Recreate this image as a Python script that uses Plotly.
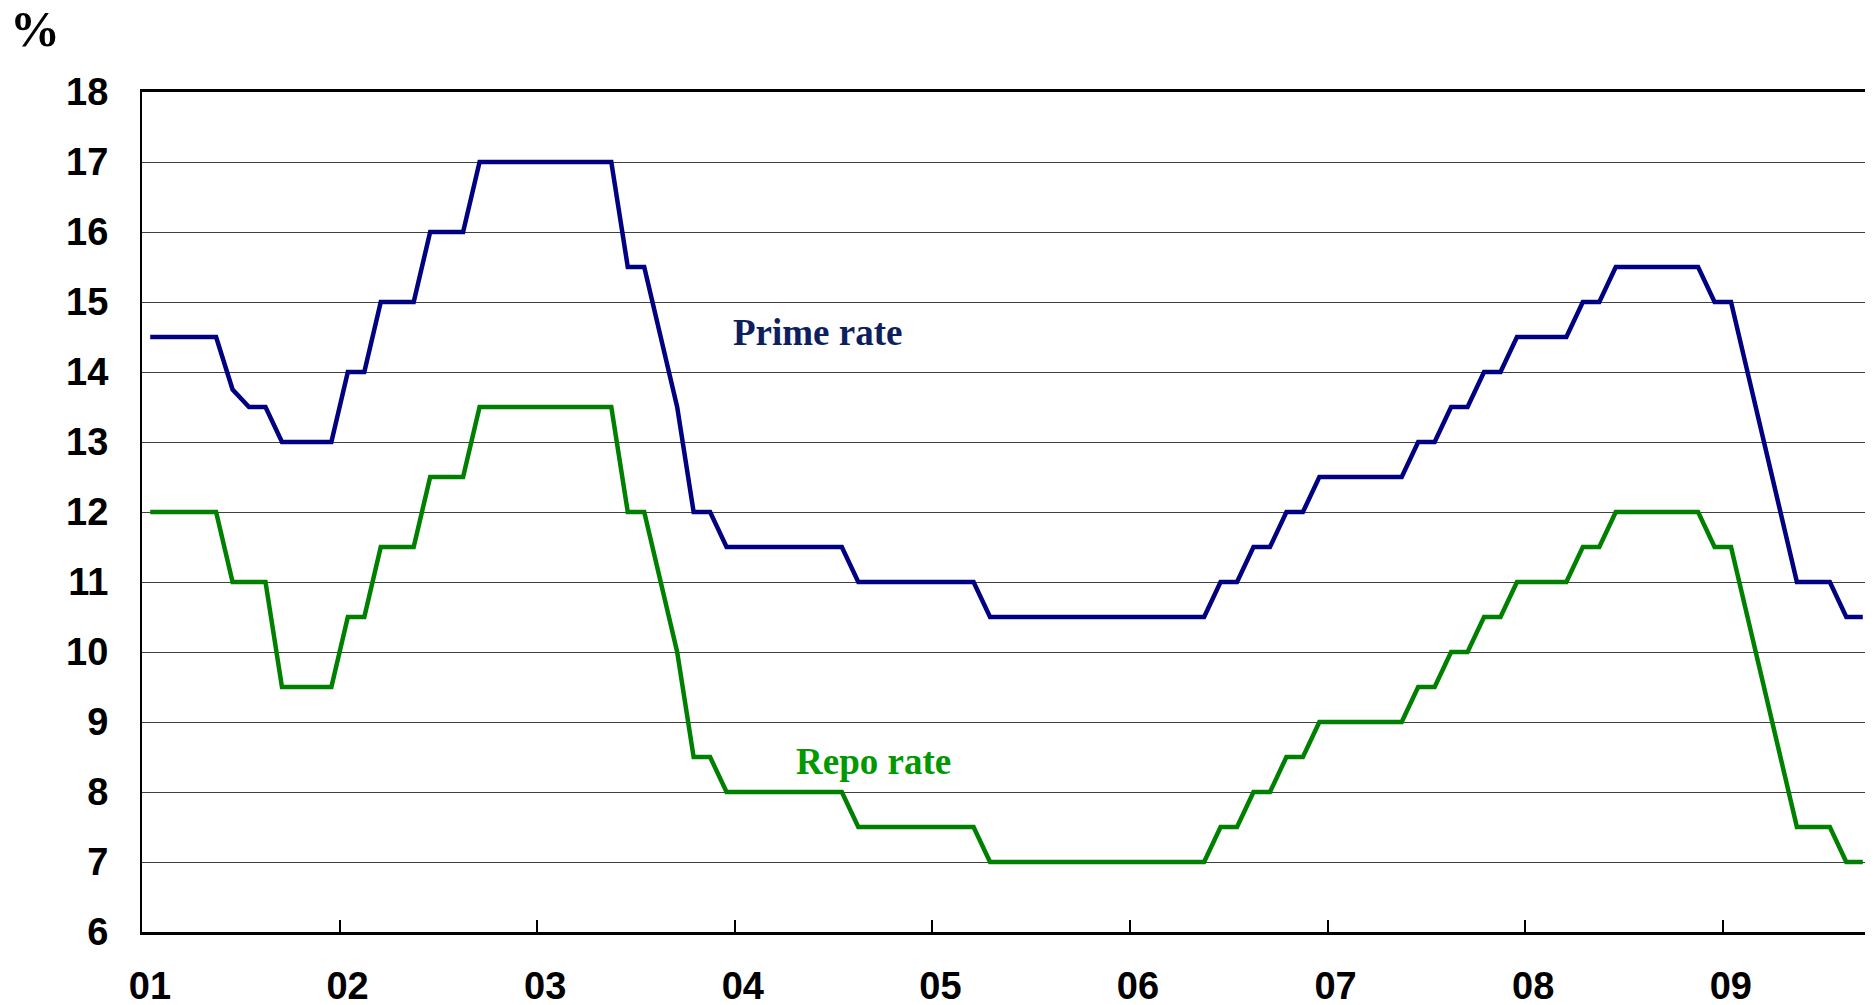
import plotly.graph_objects as go

# monthly observations, Jan 2001 .. Sep 2009 (month index 0 = Jan 2001)
months = list(range(105))

prime_rate = [
    14.5, 14.5, 14.5, 14.5, 14.5, 13.75, 13.5, 13.5, 13, 13, 13, 13,       # 2001
    14, 14, 15, 15, 15, 16, 16, 16, 17, 17, 17, 17,                        # 2002
    17, 17, 17, 17, 17, 15.5, 15.5, 14.5, 13.5, 12, 12, 11.5,              # 2003
    11.5, 11.5, 11.5, 11.5, 11.5, 11.5, 11.5, 11, 11, 11, 11, 11,          # 2004
    11, 11, 11, 10.5, 10.5, 10.5, 10.5, 10.5, 10.5, 10.5, 10.5, 10.5,      # 2005
    10.5, 10.5, 10.5, 10.5, 10.5, 11, 11, 11.5, 11.5, 12, 12, 12.5,        # 2006
    12.5, 12.5, 12.5, 12.5, 12.5, 13, 13, 13.5, 13.5, 14, 14, 14.5,        # 2007
    14.5, 14.5, 14.5, 15, 15, 15.5, 15.5, 15.5, 15.5, 15.5, 15.5, 15,      # 2008
    15, 14, 13, 12, 11, 11, 11, 10.5, 10.5,                                # 2009
]

repo_rate = [
    12, 12, 12, 12, 12, 11, 11, 11, 9.5, 9.5, 9.5, 9.5,                    # 2001
    10.5, 10.5, 11.5, 11.5, 11.5, 12.5, 12.5, 12.5, 13.5, 13.5, 13.5, 13.5,  # 2002
    13.5, 13.5, 13.5, 13.5, 13.5, 12, 12, 11, 10, 8.5, 8.5, 8,             # 2003
    8, 8, 8, 8, 8, 8, 8, 7.5, 7.5, 7.5, 7.5, 7.5,                          # 2004
    7.5, 7.5, 7.5, 7, 7, 7, 7, 7, 7, 7, 7, 7,                              # 2005
    7, 7, 7, 7, 7, 7.5, 7.5, 8, 8, 8.5, 8.5, 9,                            # 2006
    9, 9, 9, 9, 9, 9.5, 9.5, 10, 10, 10.5, 10.5, 11,                       # 2007
    11, 11, 11, 11.5, 11.5, 12, 12, 12, 12, 12, 12, 11.5,                  # 2008
    11.5, 10.5, 9.5, 8.5, 7.5, 7.5, 7.5, 7, 7,                             # 2009
]

year_ticks = [0, 12, 24, 36, 48, 60, 72, 84, 96]
year_labels = ["01", "02", "03", "04", "05", "06", "07", "08", "09"]

# centre each month inside its slot
x_pos = [m + 0.5 for m in months]

serif = "Liberation Serif, Times New Roman, serif"

fig = go.Figure()
fig.add_trace(go.Scatter(x=x_pos, y=prime_rate, mode="lines", name="Prime rate",
                         line=dict(color="#000080", width=4.5)))
fig.add_trace(go.Scatter(x=x_pos, y=repo_rate, mode="lines", name="Repo rate",
                         line=dict(color="#008000", width=4.5)))

fig.add_annotation(x=41.0, y=14.56, text="<b>Prime rate</b>", showarrow=False,
                   font=dict(family=serif, size=37, color="#0D1F5F"))
fig.add_annotation(x=44.4, y=8.43, text="<b>Repo rate</b>", showarrow=False,
                   font=dict(family=serif, size=37, color="#009900"))
fig.add_annotation(xref="paper", yref="paper", x=-0.0775, y=1.075, xanchor="left", yanchor="middle",
                   text="<b>%</b>", showarrow=False,
                   font=dict(family=serif, size=50, color="black"))

# the page body adds an 8px offset, so the figure is sized to compensate
fig.update_layout(
    width=1865,
    height=997,
    margin=dict(l=134, r=2, t=84, b=73),
    plot_bgcolor="white",
    paper_bgcolor="white",
    showlegend=False,
    font=dict(family="Liberation Sans, Arial, sans-serif", size=38, color="black"),
)
fig.update_xaxes(
    range=[0, 105],
    tickmode="array",
    tickvals=year_ticks,
    ticktext=[f"<b>{t}</b>" for t in year_labels],
    ticks="inside",
    ticklen=12,
    tickwidth=1.5,
    tickcolor="black",
    ticklabelstandoff=18,
    ticklabelshift=8,
    automargin=False,
    showgrid=False,
    zeroline=False,
    showline=True,
    linecolor="black",
    linewidth=3,
    mirror=True,
)
fig.update_yaxes(
    range=[6, 18],
    tickmode="array",
    tickvals=list(range(6, 19)),
    ticktext=[f"<b>{v}</b>" for v in range(6, 19)],
    ticks="",
    ticklabelstandoff=24,
    automargin=False,
    showgrid=True,
    gridcolor="#404040",
    gridwidth=1.3,
    zeroline=False,
    showline=True,
    linecolor="black",
    linewidth=2,
    mirror=True,
)

fig.write_html("out.html")
